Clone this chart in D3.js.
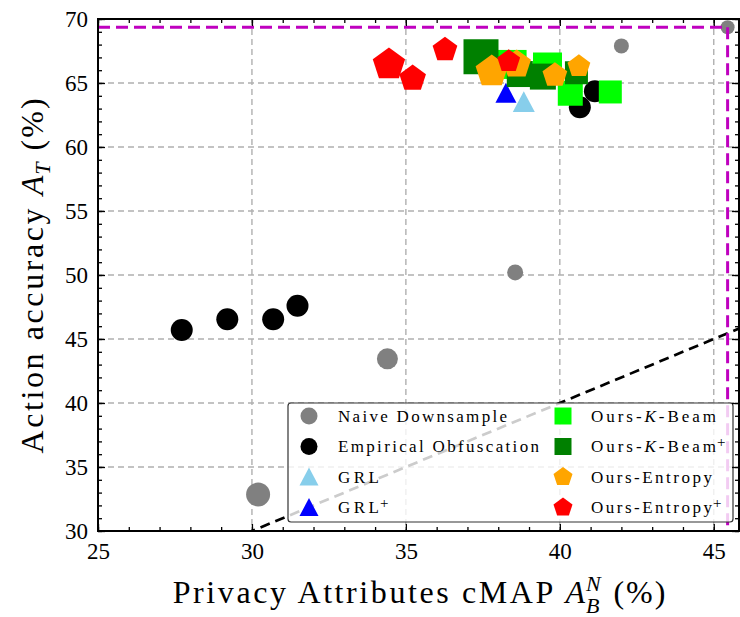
<!DOCTYPE html>
<html>
<head>
<meta charset="utf-8">
<script src="https://cdn.jsdelivr.net/npm/d3@7"></script>
<style>
body { margin: 0; background: #fff; }
text { font-family: "Liberation Serif", "DejaVu Serif", serif; fill: #000; }
</style>
</head>
<body>
<script>
// values: x = privacy cMAP (%), y = action accuracy (%)
var naiveX = [45.45, 42.0, 38.55, 34.4, 30.2];
var naiveY = [69.35, 67.9, 50.2, 43.45, 32.85];
var naiveSize = [7, 7.5, 8, 10.5, 12];

var empX = [27.72, 29.2, 30.69, 31.48, 40.65, 41.14];
var empY = [45.7, 46.55, 46.55, 47.6, 63.1, 64.35];
var empSize = [11, 11, 11, 11, 11, 11];

var grlX = [38.83];
var grlY = [63.5];
var grlSize = [11];

var grlPlusX = [38.25];
var grlPlusY = [64.2];
var grlPlusSize = [10.5];

var kbeamX = [38.45, 39.6, 40.34, 41.64];
var kbeamY = [66.45, 66.25, 64.2, 64.3];
var kbeamSize = [29, 29, 25, 23];

var kbeamPlusX = [37.44, 38.7, 39.45, 40.54];
var kbeamPlusY = [67.05, 65.7, 65.5, 65.8];
var kbeamPlusSize = [35, 26, 26, 23];

var entX = [37.79, 38.6, 39.84, 40.62];
var entY = [65.9, 66.45, 65.6, 66.3];
var entSize = [17, 15, 13, 12];

var entPlusX = [34.45, 35.22, 36.27, 38.34];
var entPlusY = [66.45, 65.35, 67.6, 66.7];
var entPlusSize = [17, 14, 13, 12];

var legendNames = ["Naive Downsample", "Empirical Obfuscation", "GRL", "GRL", "Ours-K-Beam", "Ours-K-Beam", "Ours-Entropy", "Ours-Entropy"];
var xTicks = [25, 30, 35, 40, 45];
var yTicks = [30, 35, 40, 45, 50, 55, 60, 65, 70];

var width = 740, height = 617;
var pLeft = 98, pRight = 739, pTop = 19, pBottom = 531;

var svg = d3.select("body").append("svg")
    .attr("width", width)
    .attr("height", height);

var x = d3.scaleLinear().domain([25, 45.82]).range([pLeft, pRight]);
var y = d3.scaleLinear().domain([30, 70]).range([pBottom, pTop]);

// marker paths centred on 0,0
function circlePath(r) {
    return "M" + r + ",0A" + r + "," + r + " 0 1,1 " + (-r) + ",0A" + r + "," + r + " 0 1,1 " + r + ",0Z";
}
function squarePath(s) {
    var h = s / 2;
    return "M" + (-h) + "," + (-h) + "H" + h + "V" + h + "H" + (-h) + "Z";
}
function trianglePath(h) {
    return "M0," + (-h) + "L" + h + "," + (h * 0.9) + "L" + (-h) + "," + (h * 0.9) + "Z";
}
function pentagonPath(r) {
    var pts = [];
    for (var k = 0; k < 5; k++) {
        var a = -Math.PI / 2 + k * 2 * Math.PI / 5;
        pts.push([r * Math.cos(a), r * Math.sin(a)]);
    }
    return "M" + pts.join("L") + "Z";
}

var series = [
    {xs: naiveX, ys: naiveY, size: naiveSize, shape: circlePath, color: "#808080", ls: 8.5},
    {xs: empX, ys: empY, size: empSize, shape: circlePath, color: "#000000", ls: 8.5},
    {xs: grlX, ys: grlY, size: grlSize, shape: trianglePath, color: "#87ceeb", ls: 9.5},
    {xs: grlPlusX, ys: grlPlusY, size: grlPlusSize, shape: trianglePath, color: "#0000ff", ls: 9.5},
    {xs: kbeamX, ys: kbeamY, size: kbeamSize, shape: squarePath, color: "#00ff00", ls: 17},
    {xs: kbeamPlusX, ys: kbeamPlusY, size: kbeamPlusSize, shape: squarePath, color: "#008000", ls: 17},
    {xs: entX, ys: entY, size: entSize, shape: pentagonPath, color: "#ffa500", ls: 10},
    {xs: entPlusX, ys: entPlusY, size: entPlusSize, shape: pentagonPath, color: "#ff0000", ls: 10}
];

// grid
var grid = svg.append("g")
    .attr("stroke", "#b0b0b0")
    .attr("stroke-width", 1.4)
    .attr("stroke-dasharray", "6,4");
grid.selectAll("line.gx")
    .data(xTicks.filter(function (d) { return d > 25; }))
    .enter().append("line")
    .attr("x1", function (d) { return x(d); })
    .attr("x2", function (d) { return x(d); })
    .attr("y1", pTop)
    .attr("y2", pBottom);
grid.selectAll("line.gy")
    .data(yTicks.filter(function (d) { return d > 30 && d < 70; }))
    .enter().append("line")
    .attr("x1", pLeft)
    .attr("x2", pRight)
    .attr("y1", function (d) { return y(d); })
    .attr("y2", function (d) { return y(d); });

svg.append("clipPath").attr("id", "plotclip")
    .append("rect")
    .attr("x", pLeft).attr("y", pTop)
    .attr("width", pRight - pLeft).attr("height", pBottom - pTop);

var plot = svg.append("g").attr("clip-path", "url(#plotclip)");

series.forEach(function (s) {
    var pts = s.xs.map(function (v, i) { return {x: v, y: s.ys[i], size: s.size[i]}; });
    plot.append("g")
        .selectAll("path")
        .data(pts)
        .enter()
        .append("path")
        .attr("transform", function (d) { return "translate(" + x(d.x) + "," + y(d.y) + ")"; })
        .attr("d", function (d) { return s.shape(d.size); })
        .attr("fill", s.color);
});

// y = x reference line
plot.append("line")
    .attr("x1", x(25)).attr("y1", y(25))
    .attr("x2", x(47)).attr("y2", y(47))
    .attr("stroke", "#000")
    .attr("stroke-width", 2.7)
    .attr("stroke-dasharray", "10,6");

// no-obfuscation reference (first naive point)
plot.append("line")
    .attr("x1", x(25)).attr("x2", x(naiveX[0]))
    .attr("y1", y(naiveY[0])).attr("y2", y(naiveY[0]))
    .attr("stroke", "#bf00bf")
    .attr("stroke-width", 3)
    .attr("stroke-dasharray", "12,6");
plot.append("line")
    .attr("x1", x(naiveX[0])).attr("x2", x(naiveX[0]))
    .attr("y1", y(naiveY[0])).attr("y2", y(30))
    .attr("stroke", "#bf00bf")
    .attr("stroke-width", 3)
    .attr("stroke-dasharray", "12,6");

// legend
var leg = svg.append("g");
leg.append("rect")
    .attr("x", 288).attr("y", 403)
    .attr("width", 445).attr("height", 119)
    .attr("rx", 3)
    .attr("fill", "#fff")
    .attr("fill-opacity", 0.8)
    .attr("stroke", "#333")
    .attr("stroke-width", 1.2);

var rowY = [416, 446.5, 477, 507.5];
var colMarker = [309, 563];
var colText = [338, 591];
var nameWidth = [169, 201, 41, 41, 125, 125, 121, 121];
var plusSign = [false, false, false, true, false, true, false, true];

series.forEach(function (s, i) {
    var col = Math.floor(i / 4), row = i % 4;
    leg.append("path")
        .attr("transform", "translate(" + colMarker[col] + "," + rowY[row] + ")")
        .attr("d", s.shape(s.ls))
        .attr("fill", s.color);
    var t = leg.append("text")
        .attr("x", colText[col])
        .attr("y", rowY[row] + 5.5)
        .attr("font-size", 17)
        .attr("textLength", nameWidth[i])
        .attr("lengthAdjust", "spacing");
    var name = legendNames[i];
    if (name.indexOf("-K-") >= 0) {
        t.append("tspan").text("Ours-");
        t.append("tspan").attr("font-style", "italic").text("K");
        t.append("tspan").text("-Beam");
    } else {
        t.text(name);
    }
    if (plusSign[i]) {
        leg.append("text")
            .attr("x", colText[col] + nameWidth[i] + 1)
            .attr("y", rowY[row] + 0.5)
            .attr("font-size", 15)
            .text("+");
    }
});

// axes with inward ticks on all sides
function styleAxis(g) {
    g.select(".domain").remove();
    g.selectAll("line").attr("stroke", "#000").attr("stroke-width", 1.3);
    g.selectAll("text").attr("font-size", 23).attr("fill", "#000")
        .attr("font-family", "Liberation Serif, serif");
}
var minorX = d3.range(25, 46, 1);
var minorY = d3.range(30, 71, 1);

svg.append("g").attr("transform", "translate(0," + pBottom + ")")
    .call(d3.axisBottom(x).tickValues(minorX).tickSize(-4).tickFormat(""))
    .call(styleAxis);
svg.append("g").attr("transform", "translate(0," + pBottom + ")")
    .call(d3.axisBottom(x).tickValues(xTicks).tickSize(-7).tickPadding(12).tickFormat(d3.format("d")))
    .call(styleAxis);
svg.append("g").attr("transform", "translate(0," + pTop + ")")
    .call(d3.axisTop(x).tickValues(minorX).tickSize(-4).tickFormat(""))
    .call(styleAxis);
svg.append("g").attr("transform", "translate(0," + pTop + ")")
    .call(d3.axisTop(x).tickValues(xTicks).tickSize(-7).tickFormat(""))
    .call(styleAxis);
svg.append("g").attr("transform", "translate(" + pLeft + ",0)")
    .call(d3.axisLeft(y).tickValues(minorY).tickSize(-4).tickFormat(""))
    .call(styleAxis);
svg.append("g").attr("transform", "translate(" + pLeft + ",0)")
    .call(d3.axisLeft(y).tickValues(yTicks).tickSize(-7).tickPadding(10).tickFormat(d3.format("d")))
    .call(styleAxis);
svg.append("g").attr("transform", "translate(" + pRight + ",0)")
    .call(d3.axisRight(y).tickValues(minorY).tickSize(-4).tickFormat(""))
    .call(styleAxis);
svg.append("g").attr("transform", "translate(" + pRight + ",0)")
    .call(d3.axisRight(y).tickValues(yTicks).tickSize(-7).tickFormat(""))
    .call(styleAxis);

svg.append("rect")
    .attr("x", pLeft).attr("y", pTop)
    .attr("width", pRight - pLeft).attr("height", pBottom - pTop)
    .attr("fill", "none")
    .attr("stroke", "#000")
    .attr("stroke-width", 2);

// axis titles built piece by piece (italic symbols, sub/superscripts)
function buildLabel(g, pieces) {
    var cx = 0;
    pieces.forEach(function (p) {
        var t = g.append("text")
            .attr("x", cx)
            .attr("y", p.dy || 0)
            .attr("font-size", p.size)
            .attr("font-style", p.italic ? "italic" : "normal")
            .style("letter-spacing", (p.ls || 0) + "px")
            .style("white-space", "pre")
            .text(p.t);
        var w = t.node().getComputedTextLength();
        if (!p.stack) cx += w + (p.gap || 0);
    });
    return g;
}

var xl = svg.append("g");
buildLabel(xl, [
    {t: "Privacy Attributes cMAP ", size: 32, ls: 2.6},
    {t: "A", size: 32, italic: true, gap: 1},
    {t: "N", size: 22, italic: true, dy: -12, stack: true},
    {t: "B", size: 22, italic: true, dy: 10, gap: 14},
    {t: "(%)", size: 32, ls: 2}
]);
var xb = xl.node().getBBox();
xl.attr("transform", "translate(" + (420 - xb.x - xb.width / 2) + ",603)");

var yl = svg.append("g");
buildLabel(yl, [
    {t: "Action accuracy ", size: 32, ls: 2.6},
    {t: "A", size: 32, italic: true, gap: 1},
    {t: "T", size: 22, italic: true, dy: 7, gap: 12},
    {t: "(%)", size: 32, ls: 2}
]);
var yb = yl.node().getBBox();
yl.attr("transform", "translate(43," + (275 + yb.x + yb.width / 2) + ") rotate(-90)");
</script>
</body>
</html>
